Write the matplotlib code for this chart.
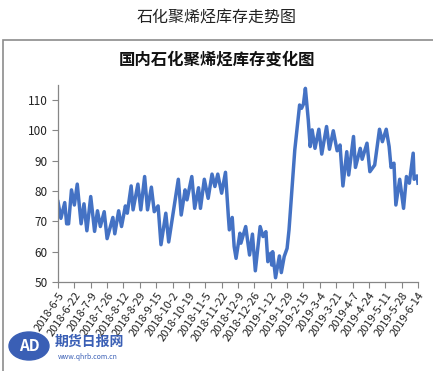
import matplotlib
matplotlib.use("Agg")
import matplotlib.pyplot as plt
from matplotlib.patches import Rectangle, Ellipse
import pandas as pd

plt.rcParams['font.family'] = ['Noto Sans CJK SC', 'DejaVu Sans']

# days since 2018-6-5 and inventory values
days = [0, 3, 7, 9, 11, 14, 17, 20, 24, 27, 30, 34, 38, 41, 44, 48, 51, 57, 59,
        63, 66, 70, 72, 76, 78, 83, 86, 90, 93, 97, 100, 104, 107, 112, 115,
        125, 128, 132, 134, 139, 142, 146, 148, 152, 156, 160, 163, 166, 170,
        174, 177, 178, 181, 183, 185, 189, 190, 195, 199, 202, 205, 210, 213,
        216, 218, 221, 222, 223, 226, 230, 232, 235, 238, 240, 246, 251, 253,
        255, 257, 260, 262, 264, 267, 271, 274, 279, 282, 286, 290, 293, 296,
        300, 302, 307, 309, 314, 316, 321, 324, 329, 334, 337, 341, 344, 346,
        349, 351, 355, 359, 362, 365, 369, 370, 373, 374]
stock = [76.5, 71, 76.2, 69.2, 69.2, 80.4, 75.4, 82.3, 69.2, 75.8, 66.9, 78.2,
         66.7, 73.5, 68.3, 73.2, 64.3, 71.3, 65.9, 73.5, 68.3, 75.1, 72.7, 81.7,
         73.8, 82.3, 73.8, 84.8, 73.8, 81.3, 73.2, 75.1, 62.3, 72.7, 63.2, 83.9,
         72.1, 80.4, 77.1, 84.8, 74.3, 81.1, 74.3, 83.9, 77.6, 85.6, 81.5, 85.6,
         79.3, 86.2, 71.6, 67.2, 71.3, 61.7, 57.8, 66.1, 62.8, 68.3, 58.9, 65.8,
         53.7, 68.3, 65, 66.6, 56.7, 59.5, 55.6, 60, 51.4, 58.6, 53.1, 58.4,
         61.1, 67.2, 93.6, 108.4, 107.3, 108.7, 113.9, 103.5, 94.7, 100.2, 94.1,
         100.4, 92.2, 101.3, 93.8, 99.9, 93.3, 95.2, 81.7, 93, 85.3, 98, 87.8,
         94.1, 90.5, 95.8, 86.4, 88.6, 100.4, 96.3, 100.4, 94.7, 87.8, 89.2,
         75.4, 83.9, 74.3, 84.8, 82.6, 92.5, 83.9, 85, 82.6]

start = pd.Timestamp('2018-06-05')
dates = start + pd.to_timedelta(days, unit='D')
tick_dates = pd.date_range(start, periods=23, freq='17D')
tick_labels = [f"{d.year}-{d.month}-{d.day}" for d in tick_dates]
y_ticks = [50, 60, 70, 80, 90, 100, 110]

fig = plt.figure(figsize=(4.33, 3.71), dpi=100)
fig.patch.set_facecolor('white')

# frame around the chart
fig.patches.append(Rectangle((3 / 433, -0.05), 1.1, 1 - 40 / 371 + 0.05,
                             transform=fig.transFigure, fill=False,
                             edgecolor='#8c8c8c', linewidth=1.2))

fig.text(0.5, 1 - 18 / 371, "石化聚烯烃库存走势图", ha='center', va='center',
         fontsize=11.5, color='#222222')
fig.text(0.5, 1 - 60 / 371, "国内石化聚烯烃库存变化图", ha='center', va='center',
         fontsize=11.8, fontweight='bold', color='#111111')

ax = fig.add_axes([58 / 433, 1 - 282 / 371, (418 - 58) / 433, (282 - 85) / 371])
ax.plot(dates, stock, color='#4472c4', linewidth=2.5, solid_joinstyle='round')

ax.set_ylim(50, 115)
ax.set_yticks(y_ticks)
ax.set_xlim(tick_dates[0], tick_dates[-1])
ax.set_xticks(tick_dates)
ax.set_xticklabels(tick_labels, rotation=56, ha='right', rotation_mode='anchor',
                   fontsize=8)
for s in ['top', 'right']:
    ax.spines[s].set_visible(False)
for s in ['left', 'bottom']:
    ax.spines[s].set_color('#868686')
    ax.spines[s].set_linewidth(0.9)
ax.tick_params(axis='both', direction='out', length=4, color='#868686',
               labelcolor='#222222')
ax.tick_params(axis='y', labelsize=8.5)
ax.tick_params(axis='x', pad=2)

# watermark logo
fig.patches.append(Ellipse((29 / 433, 1 - 346 / 371), 40 / 433, 28 / 371,
                           transform=fig.transFigure, color='#3a5fb5'))
fig.text(29 / 433, 1 - 346 / 371, "AD", ha='center', va='center', fontsize=11,
         fontweight='bold', color='white')
fig.text(55 / 433, 1 - 342 / 371, "期货日报网", ha='left', va='center',
         fontsize=10, fontweight='bold', color='#3a5fb5', fontstyle='italic')
fig.text(58 / 433, 1 - 357 / 371, "www.qhrb.com.cn", ha='left', va='center',
         fontsize=5, color='#3a5fb5')

fig.savefig("out.png", dpi=100)
